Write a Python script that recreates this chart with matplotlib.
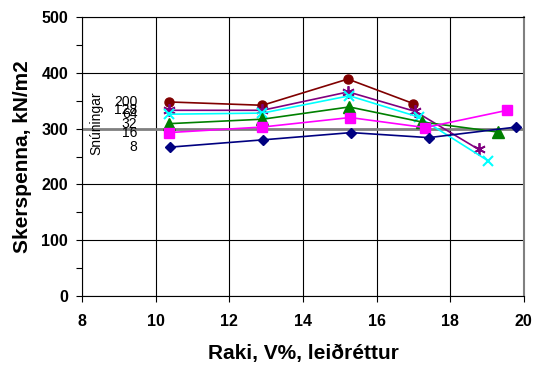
"""
Skerspenna vs raki, one line per number of turns (snúningar).
"""

import matplotlib
matplotlib.use("Agg")
import matplotlib.pyplot as plt
from matplotlib.ticker import MultipleLocator

plt.rcParams['font.family'] = ['Liberation Sans', 'DejaVu Sans']

"""Data read off the reference chart."""
turns = ["200", "128", "64", "32", "16", "8"]

x_200 = [10.35, 12.9, 15.22, 17.0]
y_200 = [348, 342, 389, 345]

x_128 = [10.35, 12.9, 15.23, 17.05, 18.77]
y_128 = [333, 333, 366, 331, 263]

x_64 = [10.35, 12.9, 15.26, 17.14, 19.04]
y_64 = [326, 328, 359, 321, 242]

x_32 = [10.35, 12.9, 15.26, 17.23, 19.3]
y_32 = [309, 317, 339, 312, 294]

x_16 = [10.35, 12.9, 15.28, 17.32, 19.55]
y_16 = [293, 303, 320, 302, 333]

x_8 = [10.4, 12.91, 15.31, 17.42, 19.8]
y_8 = [267, 280, 293, 284, 303]


def main():
    fig = plt.figure(figsize=(5.4, 3.65), dpi=100)
    ax = fig.add_axes([0.152, 0.189, 0.818, 0.764])

    """Grid and the grey reference line at 300."""
    ax.set_axisbelow(True)
    ax.grid(True, which='major', color='black', linewidth=0.8)
    ax.axhline(300, color='#808080', linewidth=2, zorder=1.5)

    """Series."""
    ax.plot(x_200, y_200, color='#800000', marker='o', markersize=6.5, lw=1.2)
    ax.plot(x_128, y_128, color='#800080', marker=(6, 2, 0), markersize=9,
            markeredgewidth=1.3, lw=1.2)
    ax.plot(x_64, y_64, color='#00FFFF', marker='x', markersize=7,
            markeredgewidth=1.5, lw=1.2)
    ax.plot(x_32, y_32, color='#008000', marker='^', markersize=8, lw=1.2)
    ax.plot(x_16, y_16, color='#FF00FF', marker='s', markersize=6.5, lw=1.2)
    ax.plot(x_8, y_8, color='#000080', marker='D', markersize=5, lw=1.2)

    """Labels for the turns, placed next to the first point of each line."""
    first_y = [y_200[0], y_128[0], y_64[0], y_32[0], y_16[0], y_8[0]]
    for label, yv in zip(turns, first_y):
        ax.text(9.5, yv, label, ha='right', va='center', fontsize=10)
    ax.text(8.4, 310, "Snúningar", rotation=90, ha='center', va='center',
            fontsize=10)

    """Axes."""
    ax.set_xlim(8, 20)
    ax.set_ylim(0, 500)
    ax.xaxis.set_major_locator(MultipleLocator(2))
    ax.yaxis.set_major_locator(MultipleLocator(100))
    ax.yaxis.set_minor_locator(MultipleLocator(50))
    ax.tick_params(which='both', direction='out', length=4, width=0.8,
                   labelsize=11.5)
    ax.tick_params(axis='x', which='major', pad=9)
    ax.tick_params(axis='y', which='major', pad=6)
    ax.tick_params(axis='x', which='minor', length=0)
    for lbl in ax.get_xticklabels() + ax.get_yticklabels():
        lbl.set_fontweight('bold')

    ax.spines['right'].set_color('#808080')
    ax.spines['right'].set_linewidth(1.5)

    ax.set_xlabel("Raki, V%, leiðréttur", fontsize=15, fontweight='bold',
                  labelpad=11)
    ax.set_ylabel("Skerspenna, kN/m2", fontsize=15, fontweight='bold',
                  labelpad=7)

    fig.savefig("out.png", dpi=100)


if __name__ == "__main__":
    main()
